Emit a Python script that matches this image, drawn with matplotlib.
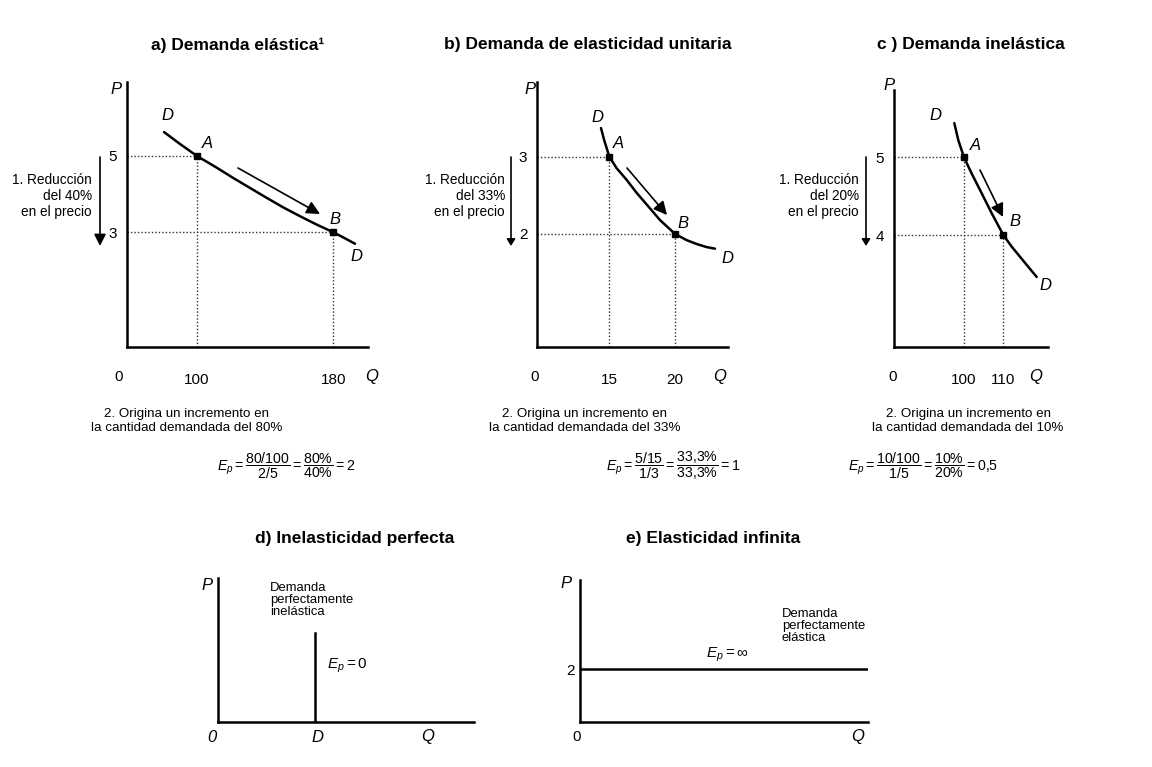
import matplotlib
matplotlib.use('Agg')
import matplotlib.pyplot as plt

# ---------------- data ----------------
# a) Demanda elástica
a_q_ticks = [100, 180]
a_p_ticks = [5, 3]
a_curve_q = [80.9, 90.2, 100, 111.7, 121.4, 131.2, 141.0, 150.7, 160.5, 170.3, 180, 186.9, 192.7]
a_curve_p = [5.62, 5.31, 5, 4.69, 4.42, 4.16, 3.90, 3.65, 3.42, 3.20, 3, 2.84, 2.70]
# b) Demanda de elasticidad unitaria
b_q_ticks = [15, 20]
b_p_ticks = [3, 2]
b_curve_q = [14.37, 14.60, 15, 15.56, 16.32, 17.09, 17.85, 18.86, 20, 20.89, 21.65, 22.41, 23.04]
b_curve_p = [3.37, 3.22, 3, 2.85, 2.70, 2.53, 2.38, 2.18, 2, 1.92, 1.87, 1.83, 1.81]
# c) Demanda inelástica
c_q_ticks = [100, 110]
c_p_ticks = [5, 4]
c_curve_q = [97.53, 98.55, 100, 101.96, 104.07, 107.05, 110, 112.14, 114.25, 116.36, 118.5]
c_curve_p = [5.44, 5.22, 5, 4.79, 4.58, 4.28, 4, 3.85, 3.72, 3.59, 3.46]
# d) Inelasticidad perfecta (schematic units)
d_line_q = [3.8, 3.8]
d_line_p = [0, 6.2]
# e) Elasticidad infinita
e_price = 2
e_line_q = [0, 10]

titles = ["a) Demanda elástica\u00b9", "b) Demanda de elasticidad unitaria",
          "c ) Demanda inelástica", "d) Inelasticidad perfecta", "e) Elasticidad infinita"]
reduction_texts = ["1. Reducción\ndel 40%\nen el precio",
                   "1. Reducción\ndel 33%\nen el precio",
                   "1. Reducción\ndel 20%\nen el precio"]
increase_texts = ["2. Origina un incremento en\nla cantidad demandada del 80%",
                  "2. Origina un incremento en\nla cantidad demandada del 33%",
                  "2. Origina un incremento en\nla cantidad demandada del 10%"]
formulas = [r"$E_p = \dfrac{80/100}{2/5} = \dfrac{80\%}{40\%} = 2$",
            r"$E_p = \dfrac{5/15}{1/3} = \dfrac{33{,}3\%}{33{,}3\%} = 1$",
            r"$E_p = \dfrac{10/100}{1/5} = \dfrac{10\%}{20\%} = 0{,}5$"]

# ---------------- style ----------------
plt.rcParams['font.family'] = ['Liberation Sans', 'DejaVu Sans']
plt.rcParams['mathtext.fontset'] = 'custom'
plt.rcParams['mathtext.rm'] = 'Liberation Sans'
plt.rcParams['mathtext.it'] = 'Liberation Sans:italic'
plt.rcParams['mathtext.bf'] = 'Liberation Sans:bold'

W, H = 1152, 767
fig = plt.figure(figsize=(W / 100, H / 100), dpi=100)
fig.patch.set_facecolor('white')


def fp(x, y):
    return x / W, 1 - y / H


def ftext(x, y, s, **kw):
    fx, fy = fp(x, y)
    return fig.text(fx, fy, s, **kw)


def farrow(x0, y0, x1, y1, hw=3.0, hl=6.0, lw=1.2):
    fig.add_artist(matplotlib.patches.FancyArrowPatch(
        fp(x0, y0), fp(x1, y1), transform=fig.transFigure,
        arrowstyle=f'-|>,head_width={hw/3:.2f},head_length={hl/3:.2f}',
        mutation_scale=3, color='black', lw=lw, shrinkA=0, shrinkB=0))


def make_ax(l, b, r, t, xlim, ylim):
    ax = fig.add_axes([l / W, 1 - b / H, (r - l) / W, (b - t) / H])
    ax.set_xlim(xlim)
    ax.set_ylim(ylim)
    ax.patch.set_alpha(0)
    for s in ['top', 'right']:
        ax.spines[s].set_visible(False)
    for s in ['left', 'bottom']:
        ax.spines[s].set_linewidth(1.8)
        ax.spines[s].set_color('black')
    ax.tick_params(length=0, labelsize=11)
    return ax


ital = dict(fontstyle='italic', fontsize=12, color='black')

# ---------------- top panels ----------------
top_specs = [
    dict(box=(127, 347, 368, 82), xlim=(59.2, 200.3), ylim=(0, 6.93),
         q=a_q_ticks, p=a_p_ticks, cq=a_curve_q, cp=a_curve_p,
         title_x=238, Dup=(167, 115), Alab=(207, 143), Blab=(335, 220), Dlo=(356, 257),
         arrow=(238, 168, 320, 214), red_x=100, red_tx=92,
         zero_x=119, Q_x=372, P_pos=(116, 90), inc_x=187, form_x=217),
    dict(box=(537, 347, 728, 82), xlim=(9.5, 24.03), ylim=(0.538, 3.966),
         q=b_q_ticks, p=b_p_ticks, cq=b_curve_q, cp=b_curve_p,
         title_x=588, Dup=(597, 118), Alab=(618, 143), Blab=(683, 223), Dlo=(727, 258),
         arrow=(627, 168, 667, 215), red_x=511, red_tx=505,
         zero_x=535, Q_x=720, P_pos=(530, 90), inc_x=585, form_x=606),
    dict(box=(894, 347, 1048, 90), xlim=(82.19, 121.37), ylim=(2.559, 5.866),
         q=c_q_ticks, p=c_p_ticks, cq=c_curve_q, cp=c_curve_p,
         title_x=971, Dup=(935, 116), Alab=(975, 145), Blab=(1015, 222), Dlo=(1045, 286),
         arrow=(980, 170, 1003, 217), red_x=866, red_tx=859,
         zero_x=893, Q_x=1036, P_pos=(889, 86), inc_x=968, form_x=848),
]

for i, sp in enumerate(top_specs):
    l, b, r, t = sp['box']
    ax = make_ax(l, b, r, t, sp['xlim'], sp['ylim'])
    x0, y0 = sp['xlim'][0], sp['ylim'][0]
    ax.plot(sp['cq'], sp['cp'], color='black', lw=1.8, solid_capstyle='round')
    for qv, pv in zip(sp['q'], sp['p']):
        ax.plot([x0, qv], [pv, pv], ls=(0, (1, 1.5)), color='#333333', lw=1.0)
        ax.plot([qv, qv], [y0, pv], ls=(0, (1, 1.5)), color='#333333', lw=1.0)
        ax.plot([qv], [pv], marker='s', ms=4, color='black', ls='none')
    ax.set_xticks(sp['q'])
    ax.set_xticklabels([str(v) for v in sp['q']])
    ax.set_yticks(sp['p'])
    ax.set_yticklabels([str(v) for v in sp['p']])
    ax.tick_params(axis='x', pad=19)
    ax.tick_params(axis='y', pad=7)
    ftext(sp['title_x'], 45, titles[i], ha='center', va='center', fontsize=12.5, fontweight='bold')
    ftext(*sp['Dup'], 'D', ha='center', va='center', **ital)
    ftext(*sp['Alab'], 'A', ha='center', va='center', **ital)
    ftext(*sp['Blab'], 'B', ha='center', va='center', **ital)
    ftext(*sp['Dlo'], 'D', ha='center', va='center', **ital)
    ftext(*sp['P_pos'], 'P', ha='center', va='center', **ital)
    ftext(sp['zero_x'], 377, '0', ha='center', va='center', fontsize=11)
    ftext(sp['Q_x'], 377, 'Q', ha='center', va='center', **ital)
    farrow(*sp['arrow'], hw=4, hl=8, lw=1.2)
    farrow(sp['red_x'], 157, sp['red_x'], 246, hw=3.5 if i == 0 else 2.5,
           hl=7 if i == 0 else 4, lw=1.2)
    ftext(sp['red_tx'], 196, reduction_texts[i], ha='right', va='center',
          multialignment='right', fontsize=9.8, linespacing=1.2)
    ftext(sp['inc_x'], 421, increase_texts[i], ha='center', va='center',
          multialignment='center', fontsize=9.6, linespacing=1.25)
    ftext(sp['form_x'], 466, formulas[i], ha='left', va='center', fontsize=10.2)

# ---------------- d) perfectly inelastic ----------------
axd = make_ax(218, 722, 474, 578, (0, 10), (0, 10))
axd.set_xticks([])
axd.set_yticks([])
axd.plot(d_line_q, d_line_p, color='black', lw=1.8)
ftext(355, 538, titles[3], ha='center', va='center', fontsize=12.5, fontweight='bold')
ftext(207, 586, 'P', ha='center', va='center', **ital)
ftext(212, 737, '0', ha='center', va='center', **ital)
ftext(317, 737, 'D', ha='center', va='center', **ital)
ftext(428, 737, 'Q', ha='center', va='center', **ital)
ftext(270, 600, "Demanda\nperfectamente\ninelástica", ha='left', va='center',
      fontsize=9.4, linespacing=1.05)
ftext(327, 666, r"$E_p = 0$", ha='left', va='center', fontsize=11)

# ---------------- e) perfectly elastic ----------------
axe = make_ax(580, 722, 868, 580, (0, 10), (0, 5.36))
axe.set_xticks([])
axe.set_yticks([e_price])
axe.set_yticklabels([str(e_price)])
axe.tick_params(axis='y', pad=4)
axe.plot(e_line_q, [e_price, e_price], color='black', lw=1.8)
ftext(713, 538, titles[4], ha='center', va='center', fontsize=12.5, fontweight='bold')
ftext(566, 583, 'P', ha='center', va='center', **ital)
ftext(577, 737, '0', ha='center', va='center', fontsize=11)
ftext(858, 737, 'Q', ha='center', va='center', **ital)
ftext(782, 626, "Demanda\nperfectamente\nelástica", ha='left', va='center',
      fontsize=9.4, linespacing=1.05)
ftext(706, 655, r"$E_p = \infty$", ha='left', va='center', fontsize=11)

fig.savefig('out.png', dpi=100, facecolor='white')
